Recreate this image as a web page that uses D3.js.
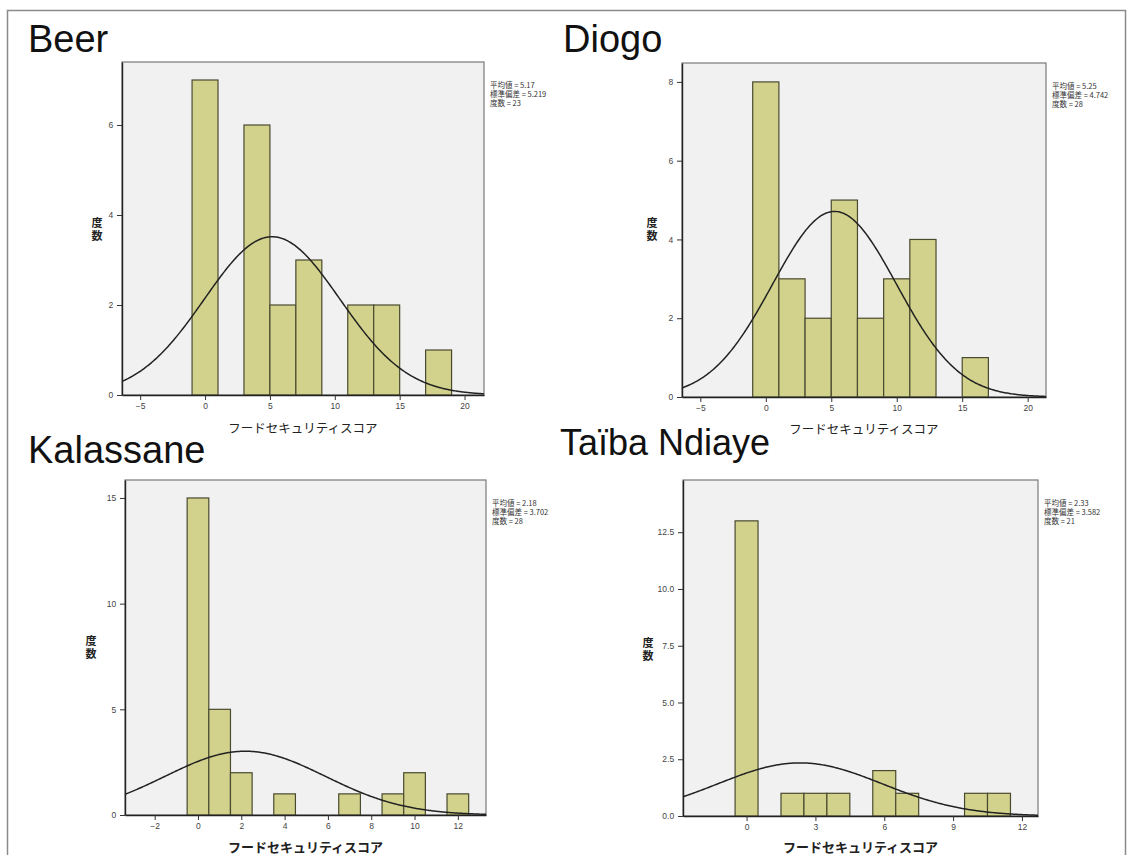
<!DOCTYPE html>
<html><head><meta charset="utf-8">
<script src="https://cdn.jsdelivr.net/npm/d3@7"></script>
<style>body{margin:0;background:#fff} svg{display:block}</style>
</head><body><svg id="c" width="1132" height="855"></svg>
<script>
// ---- data ----
const titles = ["Beer", "Diogo", "Kalassane", "Taïba Ndiaye"];
const beerEdges = [-1, 1, 3, 5, 7, 9, 11, 13, 15, 17, 19];
const beerCounts = [7, 0, 6, 2, 3, 0, 2, 2, 0, 1];
const diogoEdges = [-1, 1, 3, 5, 7, 9, 11, 13, 15, 17];
const diogoCounts = [8, 3, 2, 5, 2, 3, 4, 0, 1];
const kalassaneEdges = [-0.5, 0.5, 1.5, 2.5, 3.5, 4.5, 5.5, 6.5, 7.5, 8.5, 9.5, 10.5, 11.5, 12.5];
const kalassaneCounts = [15, 5, 2, 0, 1, 0, 0, 1, 0, 1, 2, 0, 1];
const taibaEdges = [-0.5, 0.5, 1.5, 2.5, 3.5, 4.5, 5.5, 6.5, 7.5, 8.5, 9.5, 10.5, 11.5];
const taibaCounts = [13, 0, 1, 1, 1, 0, 2, 1, 0, 0, 1, 1];
const means = [5.17, 5.25, 2.18, 2.33];
const sds = [5.219, 4.742, 3.702, 3.582];
const ns = [23, 28, 28, 21];
const beerXTicks = [-5, 0, 5, 10, 15, 20];
const diogoXTicks = [-5, 0, 5, 10, 15, 20];
const kalassaneXTicks = [-2, 0, 2, 4, 6, 8, 10, 12];
const taibaXTicks = [0, 3, 6, 9, 12];
const beerYTicks = [0, 2, 4, 6];
const diogoYTicks = [0, 2, 4, 6, 8];
const kalassaneYTicks = [0, 5, 10, 15];
const taibaYTicks = [0, 2.5, 5, 7.5, 10, 12.5];
const xLabel = "フードセキュリティスコア";
const yLabel = "度数";
const statLabels = ["平均値 = ", "標準偏差 = ", "度数 = "];

// ---- layout ----
const panels = [
  {edges: beerEdges, counts: beerCounts, xt: beerXTicks, yt: beerYTicks, yf: d3.format("d"),
   left: 122, right: 484, top: 62, bottom: 395, xd: [-6.4, 21.5], yd: [0, 7.4],
   tx: 28, ty: 52, tsize: 38, xlY: 433, xlSize: 12.5, xlBold: false, ylX: 97, ylY: 230},
  {edges: diogoEdges, counts: diogoCounts, xt: diogoXTicks, yt: diogoYTicks, yf: d3.format("d"),
   left: 682, right: 1046, top: 63, bottom: 397, xd: [-6.4, 21.4], yd: [0, 8.48],
   tx: 563, ty: 52, tsize: 38, xlY: 434, xlSize: 12.5, xlBold: false, ylX: 652, ylY: 230},
  {edges: kalassaneEdges, counts: kalassaneCounts, xt: kalassaneXTicks, yt: kalassaneYTicks, yf: d3.format("d"),
   left: 125, right: 486, top: 480, bottom: 815, xd: [-3.37, 13.3], yd: [0, 15.85],
   tx: 28, ty: 463, tsize: 38, xlY: 852, xlSize: 13, xlBold: true, ylX: 91, ylY: 648},
  {edges: taibaEdges, counts: taibaCounts, xt: taibaXTicks, yt: taibaYTicks, yf: d3.format(".1f"),
   left: 683, right: 1038, top: 480, bottom: 816, xd: [-2.77, 12.7], yd: [0, 14.8],
   tx: 560, ty: 455, tsize: 36, xlY: 852, xlSize: 13, xlBold: true, ylX: 648, ylY: 650}
];

const svg = d3.select("#c");
svg.append("rect").attr("width", 1132).attr("height", 855).attr("fill", "#fff");
// outer frame
svg.append("path").attr("d", "M7.5,855 V10.5 H1125.5 V855").attr("fill", "none")
  .attr("stroke", "#8a8a8a").attr("stroke-width", 1.5);

const fontLatin = "'Liberation Sans', Arial, sans-serif";
const fontCJK = "'Noto Sans CJK JP', 'Liberation Sans', sans-serif";

panels.forEach((p, i) => {
  const g = svg.append("g");
  const x = d3.scaleLinear().domain(p.xd).range([p.left, p.right]);
  const y = d3.scaleLinear().domain(p.yd).range([p.bottom, p.top]);

  // title
  g.append("text").attr("x", p.tx).attr("y", p.ty).text(titles[i])
    .attr("font-family", fontLatin).attr("font-size", p.tsize).attr("fill", "#111");

  // plot background + frame
  g.append("rect").attr("x", p.left).attr("y", p.top)
    .attr("width", p.right - p.left).attr("height", p.bottom - p.top)
    .attr("fill", "#f1f1f1").attr("stroke", "#7a7a7a").attr("stroke-width", 1.2);

  const clipId = "clip" + i;
  g.append("clipPath").attr("id", clipId).append("rect")
    .attr("x", p.left).attr("y", p.top).attr("width", p.right - p.left).attr("height", p.bottom - p.top);

  // bars
  const bins = p.counts.map((c, k) => ({x0: p.edges[k], x1: p.edges[k + 1], c}));
  g.append("g").selectAll("rect").data(bins.filter(b => b.c > 0)).join("rect")
    .attr("x", b => x(b.x0)).attr("width", b => x(b.x1) - x(b.x0))
    .attr("y", b => y(b.c)).attr("height", b => y(0) - y(b.c))
    .attr("fill", "#d2d28c").attr("stroke", "#4a4a30").attr("stroke-width", 1.2);

  // normal curve
  const bw = p.edges[1] - p.edges[0];
  const m = means[i], s = sds[i], n = ns[i];
  const pts = d3.range(0, 301).map(k => {
    const xv = p.xd[0] + (p.xd[1] - p.xd[0]) * k / 300;
    return [xv, n * bw * Math.exp(-0.5 * ((xv - m) / s) ** 2) / (s * Math.sqrt(2 * Math.PI))];
  });
  g.append("path").datum(pts).attr("clip-path", `url(#${clipId})`)
    .attr("d", d3.line().x(d => x(d[0])).y(d => y(d[1])))
    .attr("fill", "none").attr("stroke", "#222").attr("stroke-width", 1.5);

  // axes
  const xa = g.append("g").attr("transform", `translate(0,${p.bottom})`)
    .call(d3.axisBottom(x).tickValues(p.xt).tickSize(5).tickSizeOuter(0).tickFormat(d3.format("d")));
  const ya = g.append("g").attr("transform", `translate(${p.left},0)`)
    .call(d3.axisLeft(y).tickValues(p.yt).tickSize(5).tickSizeOuter(0).tickFormat(p.yf));
  [xa, ya].forEach(a => {
    a.select(".domain").attr("stroke", "#222").attr("stroke-width", 1.4);
    a.selectAll(".tick line").attr("stroke", "#333");
    a.selectAll("text").attr("font-family", fontLatin).attr("font-size", 8.5).attr("fill", "#444");
  });
  xa.selectAll("text").attr("dy", "0.75em");
  ya.selectAll("text").attr("dx", "-0.1em");

  // x label
  g.append("text").attr("x", (p.left + p.right) / 2).attr("y", p.xlY)
    .attr("text-anchor", "middle").attr("font-family", fontCJK)
    .attr("font-size", p.xlSize).attr("font-weight", p.xlBold ? "bold" : "normal")
    .attr("fill", "#222").text(xLabel);

  // y label (vertical writing)
  g.append("text").attr("x", p.ylX).attr("y", p.ylY)
    .attr("text-anchor", "middle").style("writing-mode", "vertical-rl")
    .attr("letter-spacing", 2)
    .attr("font-family", fontCJK).attr("font-size", 11).attr("font-weight", "bold")
    .attr("fill", "#222").text(yLabel);

  // stats
  const vals = [d3.format(".2f")(m), d3.format(".3f")(s), String(n)];
  statLabels.forEach((lab, k) => {
    g.append("text").attr("x", p.right + 6).attr("y", p.top + 26 + k * 9)
      .attr("font-family", fontCJK).attr("font-size", 7.5).attr("fill", "#333")
      .text(lab + vals[k]);
  });
});
</script>
</body></html>
